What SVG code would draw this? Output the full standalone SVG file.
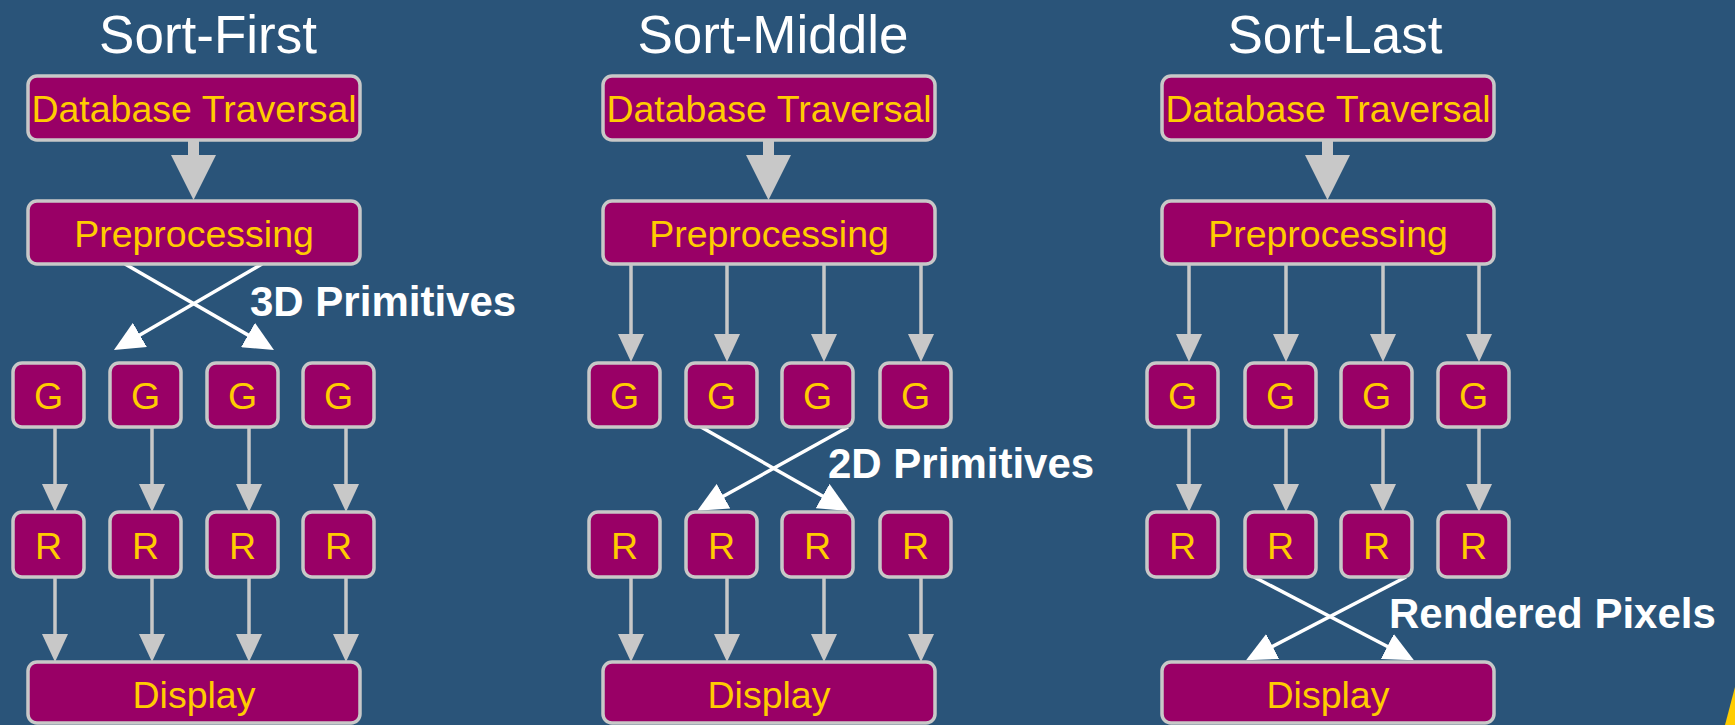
<svg xmlns="http://www.w3.org/2000/svg" width="1735" height="725" viewBox="0 0 1735 725">
<defs>
<style>
.bg{fill:#2a5479}
.box{fill:#990066;stroke:#c8c8c8;stroke-width:3.5}
.lbl{font-family:"Liberation Sans",Arial,sans-serif;font-size:37.5px;fill:#ffcc00;text-anchor:middle}
.ttl{font-family:"Liberation Sans",Arial,sans-serif;font-size:53px;fill:#ffffff;text-anchor:middle}
.note{font-family:"Liberation Sans",Arial,sans-serif;font-size:42px;font-weight:bold;fill:#ffffff}
.ga{stroke:#c8c8c8;stroke-width:3.5;fill:none;marker-end:url(#gh)}
.wa{stroke:#ffffff;stroke-width:3.5;fill:none;marker-end:url(#wh)}
.thick{fill:#c8c8c8}
</style>
<marker id="gh" markerUnits="userSpaceOnUse" markerWidth="28" markerHeight="26" refX="12" refY="13" orient="auto" viewBox="0 0 28 26">
<path d="M0,0 L28,13 L0,26 z" fill="#c8c8c8"/>
</marker>
<marker id="wh" markerUnits="userSpaceOnUse" markerWidth="30" markerHeight="28" refX="12" refY="14" orient="auto" viewBox="0 0 30 28">
<path d="M0,0 L30,14 L0,28 z" fill="#ffffff"/>
</marker>
</defs>
<rect class="bg" x="0" y="0" width="1735" height="725"/>
<polygon points="1725,725 1735,687 1735,725" fill="#ffcc00"/>

<g id="titles">
<text class="ttl" x="208" y="53">Sort-First</text>
<text class="ttl" x="773" y="53">Sort-Middle</text>
<text class="ttl" x="1335" y="53">Sort-Last</text>
</g>

<g id="connectors">
<!-- thick arrows DB -> Preprocessing -->
<polygon class="thick" points="188,140 199,140 199,155 216,155 193.5,200 171,155 188,155"/>
<polygon class="thick" points="763,140 774,140 774,155 791,155 768.5,200 746,155 763,155"/>
<polygon class="thick" points="1322,140 1333,140 1333,155 1350,155 1327.5,200 1305,155 1322,155"/>

<!-- Sort-First: crossing 3D primitives -->
<line class="wa" x1="262" y1="264" x2="129.5" y2="341"/>
<line class="wa" x1="125" y1="264" x2="258.4" y2="341"/>
<!-- Sort-First G->R -->
<line class="ga" x1="55" y1="427" x2="55" y2="496"/>
<line class="ga" x1="152" y1="427" x2="152" y2="496"/>
<line class="ga" x1="249" y1="427" x2="249" y2="496"/>
<line class="ga" x1="346" y1="427" x2="346" y2="496"/>
<!-- Sort-First R->Display -->
<line class="ga" x1="55" y1="577" x2="55" y2="646"/>
<line class="ga" x1="152" y1="577" x2="152" y2="646"/>
<line class="ga" x1="249" y1="577" x2="249" y2="646"/>
<line class="ga" x1="346" y1="577" x2="346" y2="646"/>

<!-- Sort-Middle: Pre->G -->
<line class="ga" x1="631" y1="264" x2="631" y2="346"/>
<line class="ga" x1="727" y1="264" x2="727" y2="346"/>
<line class="ga" x1="824" y1="264" x2="824" y2="346"/>
<line class="ga" x1="921" y1="264" x2="921" y2="346"/>
<!-- Sort-Middle crossing 2D primitives -->
<line class="wa" x1="701" y1="427" x2="833" y2="502"/>
<line class="wa" x1="848" y1="427" x2="713" y2="502"/>
<!-- Sort-Middle R->Display -->
<line class="ga" x1="631" y1="577" x2="631" y2="646"/>
<line class="ga" x1="727" y1="577" x2="727" y2="646"/>
<line class="ga" x1="824" y1="577" x2="824" y2="646"/>
<line class="ga" x1="921" y1="577" x2="921" y2="646"/>

<!-- Sort-Last: Pre->G -->
<line class="ga" x1="1189" y1="264" x2="1189" y2="346"/>
<line class="ga" x1="1286" y1="264" x2="1286" y2="346"/>
<line class="ga" x1="1383" y1="264" x2="1383" y2="346"/>
<line class="ga" x1="1479" y1="264" x2="1479" y2="346"/>
<!-- Sort-Last G->R -->
<line class="ga" x1="1189" y1="427" x2="1189" y2="496"/>
<line class="ga" x1="1286" y1="427" x2="1286" y2="496"/>
<line class="ga" x1="1383" y1="427" x2="1383" y2="496"/>
<line class="ga" x1="1479" y1="427" x2="1479" y2="496"/>
<!-- Sort-Last crossing rendered pixels -->
<line class="wa" x1="1254" y1="577" x2="1398" y2="652"/>
<line class="wa" x1="1406" y1="577" x2="1262" y2="652"/>
</g>

<g id="labels">
<text class="note" x="250" y="316">3D Primitives</text>
<text class="note" x="828" y="478">2D Primitives</text>
<text class="note" x="1389" y="628">Rendered Pixels</text>
</g>

<!-- Sort-First nodes -->
<g id="sf-db"><rect class="box" x="28" y="76" width="332" height="64" rx="9"/><text class="lbl" x="194" y="122">Database Traversal</text></g>
<g id="sf-pre"><rect class="box" x="28" y="201" width="332" height="63" rx="9"/><text class="lbl" x="194" y="246.5">Preprocessing</text></g>
<g id="sf-g1"><rect class="box" x="13" y="363" width="71" height="64" rx="9"/><text class="lbl" x="48.5" y="409">G</text></g>
<g id="sf-g2"><rect class="box" x="110" y="363" width="71" height="64" rx="9"/><text class="lbl" x="145.5" y="409">G</text></g>
<g id="sf-g3"><rect class="box" x="207" y="363" width="71" height="64" rx="9"/><text class="lbl" x="242.5" y="409">G</text></g>
<g id="sf-g4"><rect class="box" x="303" y="363" width="71" height="64" rx="9"/><text class="lbl" x="338.5" y="409">G</text></g>
<g id="sf-r1"><rect class="box" x="13" y="512" width="71" height="65" rx="9"/><text class="lbl" x="48.5" y="559">R</text></g>
<g id="sf-r2"><rect class="box" x="110" y="512" width="71" height="65" rx="9"/><text class="lbl" x="145.5" y="559">R</text></g>
<g id="sf-r3"><rect class="box" x="207" y="512" width="71" height="65" rx="9"/><text class="lbl" x="242.5" y="559">R</text></g>
<g id="sf-r4"><rect class="box" x="303" y="512" width="71" height="65" rx="9"/><text class="lbl" x="338.5" y="559">R</text></g>
<g id="sf-disp"><rect class="box" x="28" y="662" width="332" height="61" rx="9"/><text class="lbl" x="194" y="708">Display</text></g>

<!-- Sort-Middle nodes -->
<g id="sm-db"><rect class="box" x="603" y="76" width="332" height="64" rx="9"/><text class="lbl" x="769" y="122">Database Traversal</text></g>
<g id="sm-pre"><rect class="box" x="603" y="201" width="332" height="63" rx="9"/><text class="lbl" x="769" y="246.5">Preprocessing</text></g>
<g id="sm-g1"><rect class="box" x="589" y="363" width="71" height="64" rx="9"/><text class="lbl" x="624.5" y="409">G</text></g>
<g id="sm-g2"><rect class="box" x="686" y="363" width="71" height="64" rx="9"/><text class="lbl" x="721.5" y="409">G</text></g>
<g id="sm-g3"><rect class="box" x="782" y="363" width="71" height="64" rx="9"/><text class="lbl" x="817.5" y="409">G</text></g>
<g id="sm-g4"><rect class="box" x="880" y="363" width="71" height="64" rx="9"/><text class="lbl" x="915.5" y="409">G</text></g>
<g id="sm-r1"><rect class="box" x="589" y="512" width="71" height="65" rx="9"/><text class="lbl" x="624.5" y="559">R</text></g>
<g id="sm-r2"><rect class="box" x="686" y="512" width="71" height="65" rx="9"/><text class="lbl" x="721.5" y="559">R</text></g>
<g id="sm-r3"><rect class="box" x="782" y="512" width="71" height="65" rx="9"/><text class="lbl" x="817.5" y="559">R</text></g>
<g id="sm-r4"><rect class="box" x="880" y="512" width="71" height="65" rx="9"/><text class="lbl" x="915.5" y="559">R</text></g>
<g id="sm-disp"><rect class="box" x="603" y="662" width="332" height="61" rx="9"/><text class="lbl" x="769" y="708">Display</text></g>

<!-- Sort-Last nodes -->
<g id="sl-db"><rect class="box" x="1162" y="76" width="332" height="64" rx="9"/><text class="lbl" x="1328" y="122">Database Traversal</text></g>
<g id="sl-pre"><rect class="box" x="1162" y="201" width="332" height="63" rx="9"/><text class="lbl" x="1328" y="246.5">Preprocessing</text></g>
<g id="sl-g1"><rect class="box" x="1147" y="363" width="71" height="64" rx="9"/><text class="lbl" x="1182.5" y="409">G</text></g>
<g id="sl-g2"><rect class="box" x="1245" y="363" width="71" height="64" rx="9"/><text class="lbl" x="1280.5" y="409">G</text></g>
<g id="sl-g3"><rect class="box" x="1341" y="363" width="71" height="64" rx="9"/><text class="lbl" x="1376.5" y="409">G</text></g>
<g id="sl-g4"><rect class="box" x="1438" y="363" width="71" height="64" rx="9"/><text class="lbl" x="1473.5" y="409">G</text></g>
<g id="sl-r1"><rect class="box" x="1147" y="512" width="71" height="65" rx="9"/><text class="lbl" x="1182.5" y="559">R</text></g>
<g id="sl-r2"><rect class="box" x="1245" y="512" width="71" height="65" rx="9"/><text class="lbl" x="1280.5" y="559">R</text></g>
<g id="sl-r3"><rect class="box" x="1341" y="512" width="71" height="65" rx="9"/><text class="lbl" x="1376.5" y="559">R</text></g>
<g id="sl-r4"><rect class="box" x="1438" y="512" width="71" height="65" rx="9"/><text class="lbl" x="1473.5" y="559">R</text></g>
<g id="sl-disp"><rect class="box" x="1162" y="662" width="332" height="61" rx="9"/><text class="lbl" x="1328" y="708">Display</text></g>
</svg>
